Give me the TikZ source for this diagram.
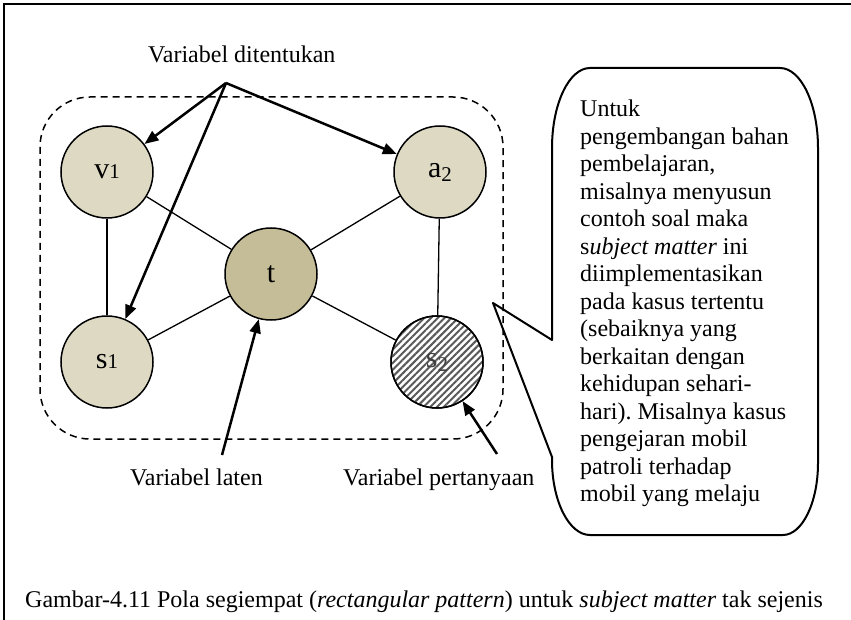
\documentclass[tikz,border=0pt]{standalone}
\usepackage{fontspec}
\setmainfont{Liberation Serif}
\usetikzlibrary{arrows.meta,patterns.meta}
\definecolor{knownvar}{HTML}{DDD9C3}
\definecolor{latentvar}{HTML}{C4BD97}
\frenchspacing
\begin{document}
\begin{tikzpicture}[x=1pt,y=-1pt,
  var/.style={circle,draw,line width=1.5pt,minimum size=92pt,inner sep=0pt,
    fill=knownvar,font=\fontsize{30}{32}\selectfont},
  link/.style={line width=1.3pt},
  pointer/.style={line width=2.5pt,-{Triangle[length=14pt,width=11pt]}},
  lbl/.style={font=\fontsize{24}{27.5}\selectfont,inner sep=0pt,anchor=base west},
  group/.style={line width=1.5pt,dash pattern=on 7pt off 5pt,rounded corners=50pt},
  bubble/.style={line width=2pt,line join=round}]
\newcommand\lowidx[1]{{\fontsize{21}{21}\selectfont #1}}
\newcommand\subidx[1]{\raisebox{-4pt}{\fontsize{21}{21}\selectfont #1}}
\useasboundingbox (0,0) rectangle (851,620);

% frame
\draw[line width=2pt] (3.5,620) -- (3.5,4) -- (851,4);

% dashed group around the pattern
\draw[group] (40,97) rectangle (503,439);

% variables
\node[var] (v1) at (107,172) {v\lowidx{1}};
\node[var] (a2) at (440,172) {a\subidx{2}};
\node[var] (s1) at (107,362) {s\lowidx{1}};
\node[var,fill=latentvar] (t) at (271,274) {t};
\node[var,fill=white,
  postaction={pattern={Lines[angle=45,distance=4.8pt,line width=2pt]},
    pattern color=black!65}] (s2) at (437,362) {\textcolor{black!75}{s\subidx{2}}};
\node[var,fill=none] at (s2) {};

% rectangular pattern
\draw[link] (v1) -- (t);
\draw[link] (a2) -- (t);
\draw[link] (s1) -- (t);
\draw[link] (s2) -- (t);
\draw[link] (v1) -- (s1);
\draw[link] (a2) -- (s2);

% labels and pointers
\node[lbl] (known) at (148,63) {Variabel ditentukan};
\coordinate (apex) at (226,83);
\draw[pointer] (apex) -- (v1);
\draw[pointer] (apex) -- (s1);
\draw[pointer] (apex) -- (a2);

\node[lbl] (latent) at (130,485) {Variabel laten};
\coordinate (latentfoot) at (222,455);
\draw[pointer] (latentfoot) -- (t);

\node[lbl] (query) at (343,485) {Variabel pertanyaan};
\coordinate (queryfoot) at (497,454);
\draw[pointer] (queryfoot) -- (s2);

% callout
\draw[bubble] (552,340) -- (552,148)
  .. controls (552,104) and (569,68) .. (590,68) -- (780,68)
  .. controls (801,68) and (818,104) .. (818,148) -- (818,463)
  .. controls (818,503) and (802,535) .. (783,535) -- (590,535)
  .. controls (569,535) and (552,501) .. (552,460) -- (552,457)
  -- (493,303) -- cycle;
\node[lbl] (note) at (580,116.7) {\begin{tabular}[t]{@{}l@{}}
Untuk\\
pengembangan bahan\\
pembelajaran,\\
misalnya menyusun\\
contoh soal maka\\
s\textit{ubject matter} ini\\
diimplementasikan\\
pada kasus tertentu\\
(sebaiknya yang\\
berkaitan dengan\\
kehidupan sehari-\\
hari). Misalnya kasus\\
pengejaran mobil\\
patroli terhadap\\
mobil yang melaju
\end{tabular}};

% caption
\node[lbl] (caption) at (25,607) {Gambar-4.11 Pola segiempat (\textit{rectangular pattern}) untuk \textit{subject matter} tak sejenis};
\end{tikzpicture}
\end{document}
